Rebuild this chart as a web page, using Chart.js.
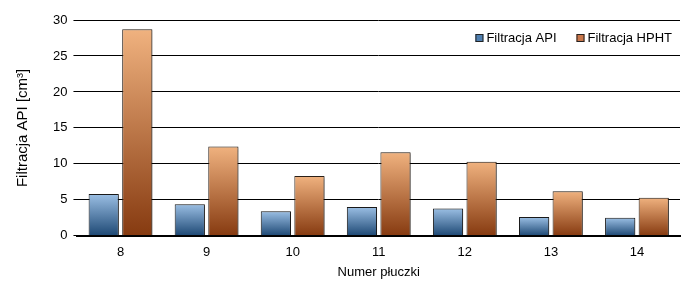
<!DOCTYPE html>
<html>
<head>
<meta charset="utf-8">
<script src="https://cdn.jsdelivr.net/npm/chart.js@4.4.1/dist/chart.umd.min.js"></script>
<style>
  html, body { margin: 0; padding: 0; background: #fff; overflow: hidden; }
  #wrap { width: 682px; height: 280px; }
</style>
</head>
<body>
<div id="wrap"><canvas id="myChart" width="682" height="280"></canvas></div>
<script>
// dane z wykresu
const kategorie = ["8", "9", "10", "11", "12", "13", "14"];
const filtracjaAPI = [5.8, 4.4, 3.4, 4.0, 3.8, 2.6, 2.5];
const filtracjaHPHT = [28.7, 12.4, 8.3, 11.6, 10.3, 6.2, 5.3];
const ticksY = [0, 5, 10, 15, 20, 25, 30];

const FONT = "'Liberation Sans', 'DejaVu Sans', sans-serif";

// gradient na kazdy slupek osobno (jasny u gory, ciemny na dole)
function gradient(top, bottom) {
  return (context) => {
    const chart = context.chart;
    if (!chart.chartArea || context.type !== "data") return bottom;
    const y = chart.scales.y;
    const yTop = y.getPixelForValue(context.parsed.y);
    const yBot = y.getPixelForValue(0);
    const g = chart.ctx.createLinearGradient(0, yTop, 0, yBot);
    g.addColorStop(0, top);
    g.addColorStop(1, bottom);
    return g;
  };
}

// cien pod slupkami
const cienPlugin = {
  id: "cien",
  beforeDatasetsDraw(chart) {
    const ctx = chart.ctx;
    ctx.save();
    ctx.shadowColor = "rgba(0,0,0,0.35)";
    ctx.shadowBlur = 2;
    ctx.shadowOffsetX = 2;
    ctx.shadowOffsetY = 1;
  },
  afterDatasetsDraw(chart) {
    chart.ctx.restore();
  }
};

// legenda w prawym gornym rogu wykresu
const legendaPlugin = {
  id: "legenda",
  afterDraw(chart) {
    const ctx = chart.ctx;
    const area = chart.chartArea;
    const y = area.top + 18;
    ctx.save();
    ctx.font = "13px " + FONT;
    ctx.textBaseline = "middle";
    let x = area.right - 8;
    const items = chart.data.datasets.slice().reverse();
    items.forEach((ds) => {
      const w = ctx.measureText(ds.label).width;
      x -= w;
      ctx.fillStyle = "#000";
      ctx.fillText(ds.label, x, y);
      x -= 11;
      ctx.fillStyle = ds.legendColor;
      ctx.fillRect(x, y - 4, 8, 8);
      ctx.strokeStyle = "#222";
      ctx.lineWidth = 1;
      ctx.strokeRect(x + 0.5, y - 3.5, 7, 7);
      x -= 20;
    });
    ctx.restore();
  }
};

const ctx = document.getElementById("myChart");
new Chart(ctx, {
  type: "bar",
  data: {
    labels: kategorie,
    datasets: [
      {
        label: "Filtracja API",
        data: filtracjaAPI,
        backgroundColor: gradient("#9bbfe4", "#1d4874"),
        borderColor: "#1a1a1a",
        borderWidth: 1,
        legendColor: "#4f7fb0"
      },
      {
        label: "Filtracja HPHT",
        data: filtracjaHPHT,
        backgroundColor: gradient("#f0b27f", "#863a10"),
        borderColor: "#2a2018",
        borderWidth: 1,
        legendColor: "#c9764a"
      }
    ]
  },
  options: {
    responsive: false,
    animation: false,
    devicePixelRatio: 1,
    layout: { padding: { top: 20, right: 2, left: 14, bottom: 0 } },
    datasets: {
      bar: { categoryPercentage: 0.78, barPercentage: 0.9 }
    },
    plugins: {
      tooltip: { enabled: false },
      legend: { display: false }
    },
    scales: {
      x: {
        grid: { display: false },
        border: { display: true, color: "#000", width: 2 },
        ticks: { color: "#000", font: { family: FONT, size: 13 }, padding: 1 },
        title: {
          display: true,
          text: "Numer płuczki",
          color: "#000",
          font: { family: FONT, size: 13 },
          padding: { top: 3, bottom: 0 }
        }
      },
      y: {
        min: 0,
        max: 30,
        afterBuildTicks: (axis) => { axis.ticks = ticksY.map(v => ({ value: v })); },
        border: { display: false },
        grid: { color: "#000", lineWidth: 1, tickLength: 4, drawTicks: true },
        ticks: { color: "#000", font: { family: FONT, size: 13 }, padding: 6 },
        title: {
          display: true,
          text: "Filtracja API [cm³]",
          color: "#000",
          font: { family: FONT, size: 15 },
          padding: { top: 0, bottom: 15 }
        }
      }
    }
  },
  plugins: [cienPlugin, legendaPlugin]
});
</script>
</body>
</html>
